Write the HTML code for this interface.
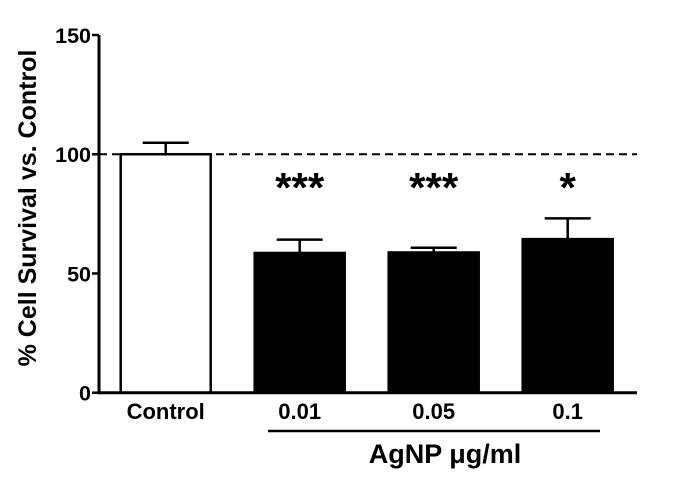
<!DOCTYPE html>
<html><head><meta charset="utf-8"><style>
html,body{margin:0;padding:0;background:#fff;}
svg{display:block;font-family:"Liberation Sans",Arial,sans-serif;font-weight:bold;}
</style></head><body>
<svg id="chart" width="700" height="479" viewBox="0 0 700 479" xmlns="http://www.w3.org/2000/svg"></svg>
<script>
const categories = ["Control", "0.01", "0.05", "0.1"];
const values = [100, 58.6, 58.8, 64.4];
const errors = [4.8, 5.6, 2.0, 8.7];
const stars = ["", "***", "***", "*"];
const yTicks = [0, 50, 100, 150];
const refValue = 100;

const NS = "http://www.w3.org/2000/svg";
const svg = document.getElementById("chart");
const y0 = 392.7, yTop = 35, yMax = 150;
function yScale(v){ return y0 - (v / yMax) * (y0 - yTop); }
const barStart = 120.7, barStep = 134, barW = 90;
function xScale(i){ return barStart + i * barStep; }
function mk(tag, attrs){ const e = document.createElementNS(NS, tag); for (const k in attrs) e.setAttribute(k, attrs[k]); svg.appendChild(e); return e; }

categories.forEach((c, i) => {
  const x = xScale(i), top = yScale(values[i]), eTop = yScale(values[i] + errors[i]);
  const cx = x + barW / 2;
  const eb = mk("line", {x1: cx, x2: cx, y1: top, y2: eTop, stroke: "#000", "stroke-width": 2.5});
  
  
  const cap = mk("line", {x1: cx - 23, x2: cx + 23, y1: eTop, y2: eTop, stroke: "#000", "stroke-width": 2.5});
  
  
  const r = mk("rect", {x: x, y: top, width: barW, height: y0 - top, fill: i === 0 ? "#fff" : "#000", stroke: "#000", "stroke-width": 2.5});
  
  
  const t = mk("text", {x: cx, y: 419, "text-anchor": "middle", "font-size": 22});
  t.textContent = c;
  
  
  if (stars[i]) {
    const s = mk("text", {x: cx, y: 202, "text-anchor": "middle", "font-size": 42});
    s.textContent = stars[i];
    
    
  }
});

const ref = mk("line", {x1: 99, x2: 637, y1: yScale(refValue), y2: yScale(refValue), stroke: "#000", "stroke-width": 2, "stroke-dasharray": "8,5"});



const ya = mk("line", {x1: 99, x2: 99, y1: yTop, y2: y0 + 1.5, stroke: "#000", "stroke-width": 3});


const xa = mk("line", {x1: 97.5, x2: 637, y1: y0, y2: y0, stroke: "#000", "stroke-width": 3});


yTicks.forEach(v => {
  const tk = mk("line", {x1: 92, x2: 99, y1: yScale(v), y2: yScale(v), stroke: "#000", "stroke-width": 2.5});
  
  
  const tl = mk("text", {x: 91, y: yScale(v) + 8, "text-anchor": "end", "font-size": 21.5});
  tl.textContent = v;
  
  
});

const yt = mk("text", {x: 0, y: 0, "text-anchor": "middle", "font-size": 25, transform: "translate(36,208) rotate(-90)"});
yt.textContent = "% Cell Survival vs. Control";



const ul = mk("line", {x1: 268, x2: 600, y1: 431, y2: 431, stroke: "#000", "stroke-width": 2.5});


const xt = mk("text", {x: 445, y: 463, "text-anchor": "middle", "font-size": 27});
xt.textContent = "AgNP μg/ml";


</script>
</body></html>
